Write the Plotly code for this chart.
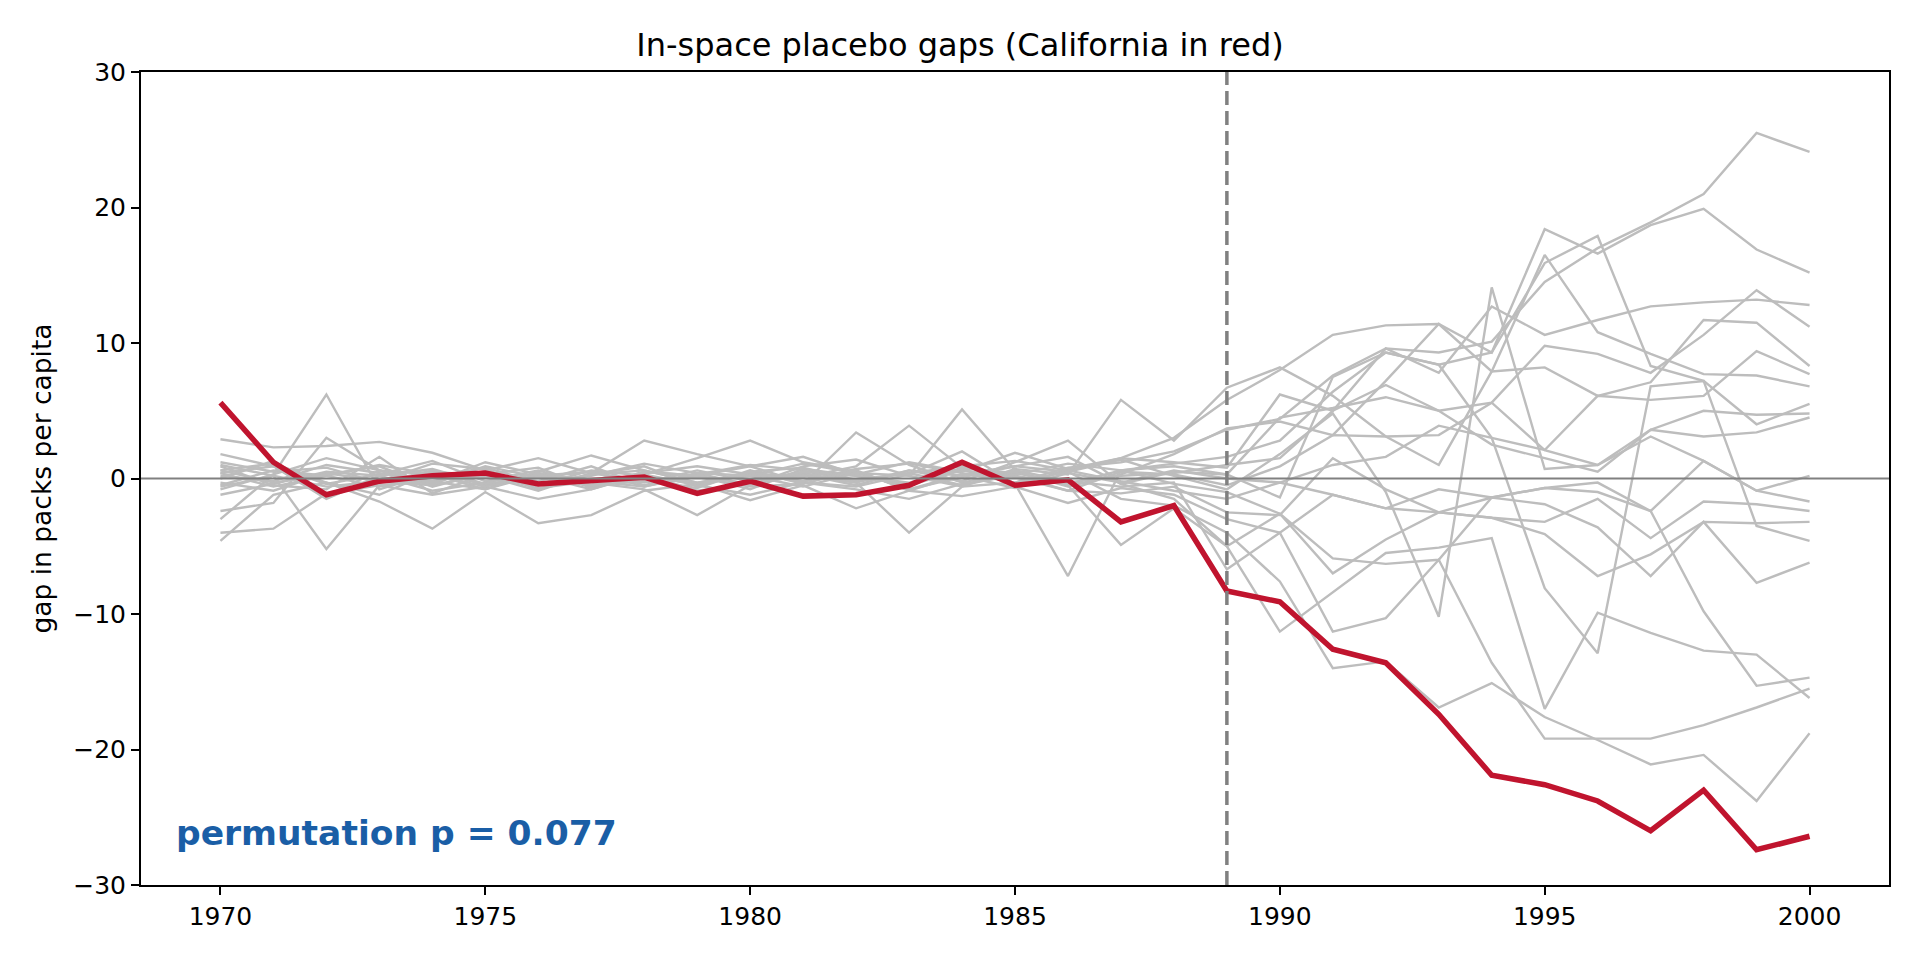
import plotly.graph_objects as go

years = list(range(1970, 2001))

# California gap (treated unit)
california = [5.6, 1.2, -1.2, -0.2, 0.2, 0.4, -0.4, -0.2, 0.1, -1.1,
              -0.2, -1.3, -1.2, -0.5, 1.2, -0.5, -0.1, -3.2, -2.0,
              -8.3, -9.1, -12.6, -13.6, -17.4, -21.9, -22.6, -23.8, -26.0, -23.0, -27.4, -26.4]

# placebo gaps, one list per donor state (1970-2000)
placebo_01 = [1.2, 0.5, 0.8, -0.3, 0.6, -0.5, 0.2, -0.8, 0.4, 0.9, 0.3, -0.2, 0.7, 1.1, 0.4, -0.3, 0.8, 1.2, 2.0,
              3.6, 4.4, 7.6, 9.6, 9.3, 10.1, 14.5, 17.0, 18.9, 21.0, 25.5, 24.1]
placebo_02 = [-0.8, 0.3, 1.5, 0.6, -0.4, 0.9, 0.1, 0.5, -0.6, 0.3, 1.0, 0.6, -0.2, 0.4, 0.9, 1.3, 0.6, 1.5, 3.0,
              5.8, 8.0, 10.6, 11.3, 11.4, 9.3, 18.4, 16.6, 18.7, 19.9, 16.9, 15.2]
placebo_03 = [0.4, -0.6, 0.2, 1.0, 0.3, -0.8, 0.5, 1.7, 0.6, -0.3, 0.2, 1.1, 0.4, -0.5, 0.8, 0.2, -0.4, 0.6, 1.1,
              1.6, 2.8, 6.4, 9.3, 8.4, 9.3, 15.9, 17.9, 8.3, 7.2, 4.0, 5.5]
placebo_04 = [2.9, 2.3, 2.4, 2.7, 1.9, 0.6, 1.5, 0.4, 2.8, 1.8, 0.9, 1.6, 0.3, 1.2, 0.5, 1.9, 0.7, 1.5, 1.2,
              0.8, 6.2, 5.0, 9.6, 7.8, 12.7, 10.6, 11.7, 12.7, 13.0, 13.2, 12.8]
placebo_05 = [-0.5, 0.6, 0.2, -0.6, 0.1, 0.8, -0.3, 0.2, 1.1, 0.4, -0.5, 0.9, 1.4, 0.2, -0.6, 0.7, 0.3, 5.8, 2.8,
              6.7, 8.2, 6.1, 3.1, 1.0, 7.9, 16.5, 10.8, 9.2, 7.7, 7.6, 6.8]
placebo_06 = [1.8, 0.9, -0.4, 0.3, 1.3, -0.2, 0.6, -0.5, 0.3, 1.5, 2.8, 1.2, 0.5, -0.8, 0.3, 0.9, 1.6, -0.4, 0.5,
              0.3, 4.5, 5.2, 6.0, 5.0, 5.6, 9.8, 9.2, 7.8, 10.6, 13.9, 11.2]
placebo_07 = [0.6, 1.1, -0.3, -1.2, 0.5, 0.2, -0.9, 0.4, -0.2, -0.7, 0.6, -0.4, 3.4, 1.0, -0.3, 0.5, -0.6, 0.3, 1.8,
              3.7, 4.2, 3.2, 7.2, 11.4, 7.9, 8.2, 6.1, 7.1, 11.7, 11.5, 8.3]
placebo_08 = [-1.2, -0.4, 0.5, 0.2, -0.9, -0.3, 0.4, -0.2, -0.6, 0.2, -0.4, 0.3, -0.5, 0.6, 0.2, -0.7, 0.4, -0.3, 0.6,
              0.0, -0.3, 1.0, 1.6, 3.9, 3.0, 2.1, 6.1, 5.8, 6.1, 9.4, 7.7]
placebo_09 = [0.2, -0.2, 1.0, 0.4, -0.2, 0.5, -0.4, 0.3, 0.6, -0.3, 0.4, 0.1, 0.9, 3.9, 0.8, 0.4, -0.3, 0.2, 0.4,
              1.0, 1.5, 5.0, 6.9, 5.0, 2.5, 1.5, 0.5, 3.6, 5.0, 4.7, 4.8]
placebo_10 = [-2.4, -1.8, 3.0, 0.6, -0.3, 1.2, 0.3, -0.6, 0.5, 0.2, -0.8, 0.7, 0.2, -0.5, 0.6, 0.1, -0.9, 0.5, 0.3,
              -0.5, 0.9, 3.2, 3.1, 3.2, 5.6, 2.1, 1.0, 3.6, 3.1, 3.4, 4.5]
placebo_11 = [-3.0, 0.3, 6.2, -0.8, 0.4, 0.1, -0.5, 0.6, 0.2, -0.4, 0.3, -0.2, 0.5, -0.8, 0.1, 0.9, 0.5, 1.4, 0.2,
              -0.8, 1.8, 4.8, -1.0, -10.2, 14.1, 0.7, 1.0, 3.1, 1.3, -0.9, 0.2]
placebo_12 = [0.9, -0.5, -0.8, 1.6, -1.1, 0.3, 0.8, -0.7, 0.5, 0.2, 0.9, -0.3, -0.6, 0.3, 2.0, -0.4, 0.6, -0.2, -0.9,
              -1.5, -0.3, -1.2, -2.2, -0.8, -1.4, -0.7, -0.3, -2.4, 1.3, -0.9, -1.7]
placebo_13 = [-4.0, -3.7, -1.1, -0.5, -1.2, -0.6, -1.5, -0.8, 0.3, -0.5, -1.2, -0.3, -0.8, -1.5, -0.4, 0.2, -0.9, -1.1, -0.6,
              -2.5, -2.7, 1.5, -0.8, -2.5, -2.9, -3.2, -1.5, -4.4, -1.7, -1.9, -2.4]
placebo_14 = [-4.6, -1.2, -0.3, -1.7, -3.7, -1.0, -3.3, -2.7, -0.9, -0.4, -1.6, -0.5, -2.2, -0.9, -1.3, -0.6, -1.8, -0.7, -1.2,
              -3.0, -4.0, -1.2, -2.2, -2.5, -2.9, -4.1, -7.2, -5.6, -3.2, -3.3, -3.2]
placebo_15 = [0.4, 0.9, -1.5, 0.2, 0.7, -0.4, 0.1, -0.3, -0.8, -2.7, -0.5, 0.4, -0.3, 0.6, -0.2, 1.2, 2.8, -0.4, -1.5,
              -5.0, -2.6, -5.9, -6.3, -6.0, -1.4, -1.9, -3.6, -7.2, -3.2, -7.7, -6.2]
placebo_16 = [0.0, 1.3, -1.3, 0.6, 0.3, -0.6, 0.2, 0.5, -0.3, 0.6, -0.2, 0.5, 0.2, -0.3, 0.7, -0.4, -7.2, 0.6, 0.9,
              0.3, -1.4, 7.5, 9.3, 8.4, 3.0, -8.1, -12.9, 6.8, 7.2, -3.5, -4.6]
placebo_17 = [1.0, 0.2, -0.6, -0.2, 1.1, 0.7, -0.8, 0.3, 0.9, -0.6, 0.5, 0.8, -0.1, 0.4, -0.5, 0.3, 1.1, 0.6, -0.4,
              -1.0, -2.6, -7.0, -4.5, -2.5, -1.4, -0.7, -1.0, -2.4, -9.8, -15.3, -14.7]
placebo_18 = [-0.3, -0.9, 0.4, -0.2, -0.5, 0.3, -0.7, -0.2, 0.3, -0.9, -0.4, 0.2, -0.3, -4.0, -0.6, -0.3, 0.5, -1.5, -2.0,
              -4.0, -7.6, -14.0, -13.5, -16.9, -15.1, -17.6, -19.3, -21.1, -20.4, -23.8, -18.8]
placebo_19 = [-0.6, 0.2, -5.2, -0.5, -0.2, -0.8, 0.3, -0.5, -0.2, 0.1, -0.6, -0.4, 0.6, -0.9, 0.3, 0.5, -0.5, -4.9, -2.2,
              -5.0, -11.3, -8.4, -5.5, -5.1, -4.4, -17.0, -9.9, -11.4, -12.7, -13.0, -16.2]
placebo_20 = [0.6, -0.3, 0.3, 0.9, -0.6, 0.4, -0.2, 0.9, -0.5, 0.4, 0.2, -0.6, 0.4, 0.2, 5.1, 0.6, -0.2, -0.6, -0.3,
              -6.7, -4.0, -11.3, -10.3, -6.0, -13.6, -19.2, -19.2, -19.2, -18.2, -16.9, -15.5]

placebos = [placebo_01, placebo_02, placebo_03, placebo_04, placebo_05,
            placebo_06, placebo_07, placebo_08, placebo_09, placebo_10,
            placebo_11, placebo_12, placebo_13, placebo_14, placebo_15,
            placebo_16, placebo_17, placebo_18, placebo_19, placebo_20]

treatment_year = 1989
p_value = 0.077

fig = go.Figure()

# grey placebo lines
for gaps in placebos:
    fig.add_trace(go.Scatter(x=years, y=gaps, mode="lines",
                             line=dict(color="#bdbdbd", width=2.4),
                             showlegend=False, hoverinfo="skip"))

# California on top
fig.add_trace(go.Scatter(x=years, y=california, mode="lines",
                         line=dict(color="#c0142e", width=5.5),
                         showlegend=False, name="California"))

# zero line and treatment year
fig.add_hline(y=0, line=dict(color="#808080", width=2), layer="above")
fig.add_vline(x=treatment_year, line=dict(color="#808080", width=3.5, dash="14px,6px"), layer="above")

fig.add_annotation(text="<b>permutation p = %.3f</b>" % p_value,
                   xref="paper", yref="paper", x=0.019, y=0.064,
                   xanchor="left", yanchor="middle", showarrow=False,
                   font=dict(family="DejaVu Sans", size=34.5, color="#1a5ea6"))

axis_style = dict(showline=True, mirror=True, linecolor="black", linewidth=2,
                  ticks="outside", ticklen=8, tickwidth=2, tickcolor="black",
                  showgrid=False, zeroline=False,
                  tickfont=dict(family="DejaVu Sans", size=25, color="black"))

# page body has an 8px margin, so the figure is a bit smaller than the window
fig.update_layout(
    title=dict(text="In-space placebo gaps (California in red)", x=0.5, xanchor="center",
               y=0.961, yanchor="middle",
               font=dict(family="DejaVu Sans", size=32, color="black")),
    xaxis=dict(range=[1968.5, 2001.5], tickvals=[1970, 1975, 1980, 1985, 1990, 1995, 2000], **axis_style),
    yaxis=dict(range=[-30, 30], tickvals=[-30, -20, -10, 0, 10, 20, 30],
               title=dict(text="gap in packs per capita", standoff=14,
                          font=dict(family="DejaVu Sans", size=26.5, color="black")),
               **axis_style),
    plot_bgcolor="white",
    paper_bgcolor="white",
    width=1904, height=944,
    margin=dict(l=133, r=23, t=64, b=67),
)

fig.write_html("out.html")
